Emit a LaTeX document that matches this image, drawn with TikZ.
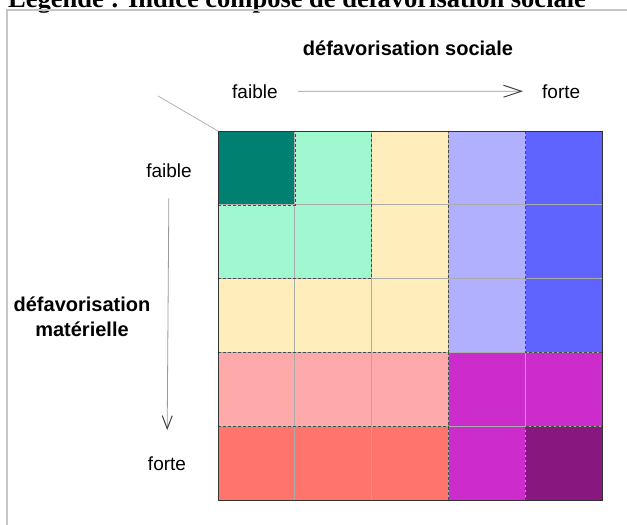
\documentclass[tikz,border=0pt]{standalone}
\usepackage{fontspec}
\setmainfont{Liberation Sans}
\newfontfamily\titrefont{Liberation Serif}
\usetikzlibrary{arrows.meta}
\definecolor{sarcelle}{RGB}{0,128,112}
\definecolor{menthe}{RGB}{160,248,208}
\definecolor{creme}{RGB}{255,238,188}
\definecolor{lavande}{RGB}{176,176,255}
\definecolor{bleu}{RGB}{96,100,255}
\definecolor{rose}{RGB}{255,170,170}
\definecolor{rouge}{RGB}{255,116,108}
\definecolor{magenta}{RGB}{204,44,204}
\definecolor{violet}{RGB}{136,24,128}
\tikzset{
  txt/.style={inner sep=0pt,font=\fontsize{19}{22}\selectfont},
  gras/.style={inner sep=0pt,font=\fontsize{20}{25}\selectfont\bfseries},
  fleche/.style={gray!80,line width=0.8pt},
  groupe/.style={black!70,densely dashed,line width=0.6pt},
}
\begin{document}
\begin{tikzpicture}[x=1pt,y=-1pt]
      \useasboundingbox (0,0) rectangle (627,525);
      %titre
      \node[anchor=base west,inner sep=0pt,font=\fontsize{26.5}{30}\selectfont\titrefont\bfseries] (titre) at (8,7) {Légende : Indice composé de défavorisation sociale};
      \draw[gray!45,line width=1.5pt] (7,525) -- (7,10) -- (627,10);
      %axes
      \node[gras] (socx) at (408,48) {défavorisation sociale};
      \node[txt,anchor=base west] (sfaible) at (232,98) {faible};
      \node[txt,anchor=base west] (sforte) at (542,98) {forte};
      \draw[fleche,-{Straight Barb[length=18pt,width=12pt,color=black!75,line width=1pt]},shorten <=20pt,shorten >=19pt] (sfaible.east) -- (sforte.west);
      \node[txt,anchor=base] (mfaible) at (169,177) {faible};
      \node[txt,anchor=base] (mforte) at (167,470) {forte};
      \draw[fleche,-{Straight Barb[length=13pt,width=10pt,color=black!75,line width=1pt]},shorten <=21pt,shorten >=26pt] (mfaible.south) -- (mforte.north);
      \node[gras,align=center] (mat) at (82,317) {défavorisation\\matérielle};
      %grille
      \begin{scope}[shift={(218,131)},x=76.8pt,y=-73.8pt]
        \coordinate (coin) at (0,0);
        \fill[sarcelle] (0,0) rectangle (1,1);
        \fill[menthe] (1,0) -- (2,0) -- (2,2) -- (0,2) -- (0,1) -- (1,1) -- cycle;
        \fill[creme] (2,0) -- (3,0) -- (3,3) -- (0,3) -- (0,2) -- (2,2) -- cycle;
        \fill[lavande] (3,0) rectangle (4,3);
        \fill[bleu] (4,0) rectangle (5,3);
        \fill[rose] (0,3) rectangle (3,4);
        \fill[rouge] (0,4) rectangle (3,5);
        \fill[magenta] (3,3) -- (5,3) -- (5,4) -- (4,4) -- (4,5) -- (3,5) -- cycle;
        \fill[violet] (4,4) rectangle (5,5);
        \foreach \i in {1,...,4} {
          \draw[gray!65,line width=0.7pt] (\i,0) -- (\i,5);
          \draw[gray!65,line width=0.7pt] (0,\i) -- (5,\i);
        }
        \draw[groupe] (0,1) -- (1,1) -- (1,0);
        \draw[groupe] (0,2) -- (2,2) -- (2,0);
        \draw[groupe] (0,3) -- (3,3) -- (3,0);
        \draw[groupe] (4,0) -- (4,3) -- (5,3);
        \draw[groupe] (0,4) -- (3,4);
        \draw[groupe] (3,3) -- (3,5);
        \draw[groupe] (4,5) -- (4,4) -- (5,4);
        \draw[gray!40!black,line width=1pt] (0,0) rectangle (5,5);
      \end{scope}
      %diagonale
      \coordinate (diag) at (158,96);
      \draw[gray!60,line width=0.8pt] (diag) -- (coin);
\end{tikzpicture}
\end{document}
